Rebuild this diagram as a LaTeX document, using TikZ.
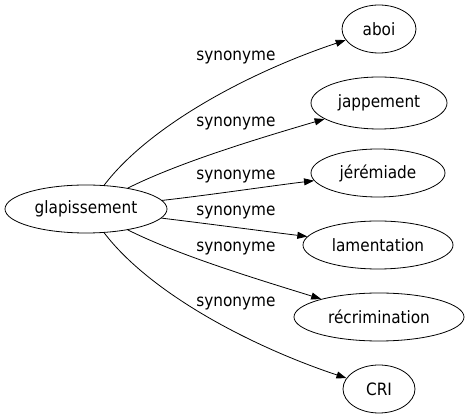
\documentclass[tikz,border=0pt]{standalone}
\usepackage{fontspec}
\setmainfont{DejaVu Sans Condensed}
\usetikzlibrary{shapes.geometric,arrows.meta}
\begin{document}
\begin{tikzpicture}[x=1pt,y=-1pt,
  word/.style={draw,ellipse,line width=0.8pt,inner sep=0pt,font=\fontsize{17}{20}\selectfont},
  rel/.style={font=\fontsize{17}{20}\selectfont,inner sep=0pt},
  link/.style={line width=0.8pt,-{Triangle[length=10pt,width=7pt]}}]
\useasboundingbox (0,0) rectangle (469,419);
\node[word,minimum width=162pt,minimum height=48pt] (g) at (86,209) {glapissement};
\node[word,minimum width=74pt,minimum height=48pt] (a) at (379,29) {aboi};
\node[word,minimum width=136pt,minimum height=52pt] (j) at (379,103) {jappement};
\node[word,minimum width=134pt,minimum height=48pt] (je) at (378,173) {jérémiade};
\node[word,minimum width=150pt,minimum height=48pt] (l) at (378,245) {lamentation};
\node[word,minimum width=170pt,minimum height=48pt] (r) at (379,317) {récrimination};
\node[word,minimum width=72pt,minimum height=48pt] (c) at (379,389) {CRI};
\node[rel] (s1) at (236,58) {synonyme};
\node[rel] (s2) at (236,124) {synonyme};
\node[rel] (s3) at (236,177) {synonyme};
\node[rel] (s4) at (236,213) {synonyme};
\node[rel] (s5) at (236,249) {synonyme};
\node[rel] (s6) at (236,304) {synonyme};
\draw[link] (g) .. controls (150,125) and (250,72) .. (a);
\draw[link] (g) .. controls (180,162) and (260,138) .. (j);
\draw[link] (g) .. controls (210,195) and (270,186) .. (je);
\draw[link] (g) .. controls (210,224) and (270,232) .. (l);
\draw[link] (g) .. controls (180,256) and (260,280) .. (r);
\draw[link] (g) .. controls (150,293) and (250,346) .. (c);
\end{tikzpicture}
\end{document}
